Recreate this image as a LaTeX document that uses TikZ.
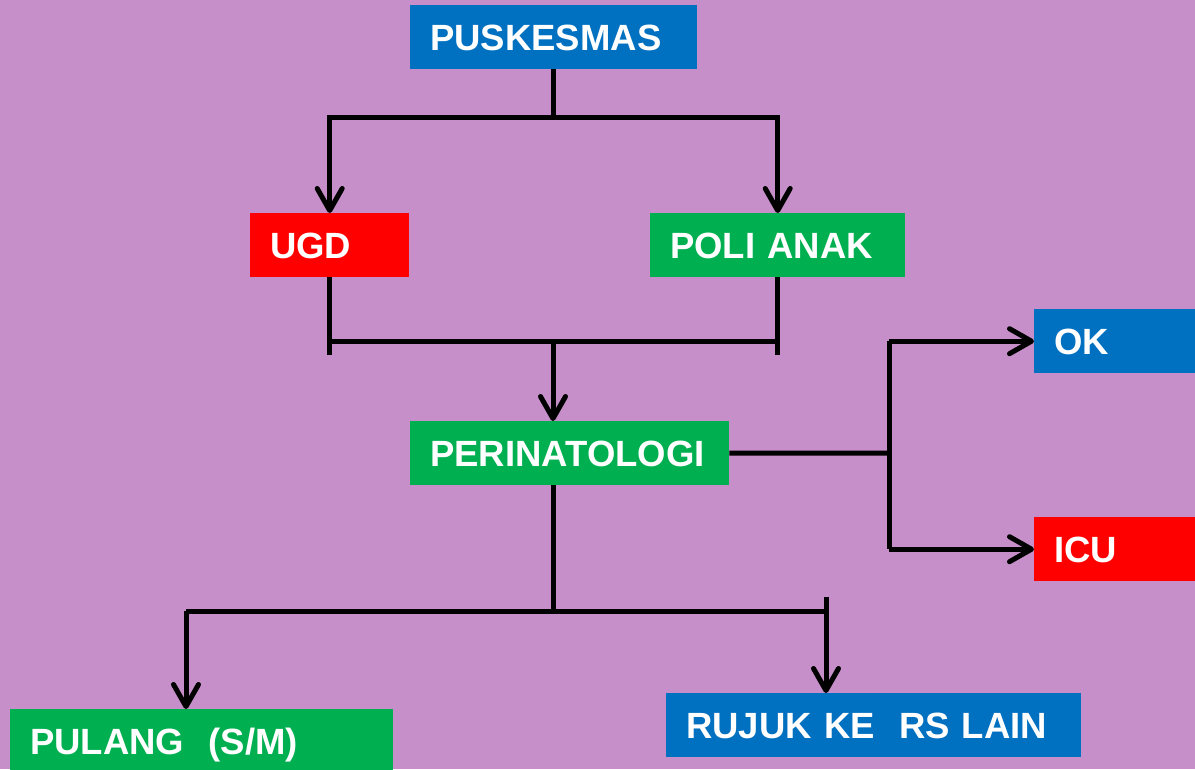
\documentclass[tikz,border=0pt]{standalone}
\usepackage{fontspec}
\setmainfont{Liberation Sans}
\usetikzlibrary{arrows.meta}
\definecolor{bgpurple}{HTML}{C78FC9}
\definecolor{boxblue}{HTML}{0070C0}
\definecolor{boxred}{HTML}{FF0000}
\definecolor{boxgreen}{HTML}{00B050}
\begin{document}
\begin{tikzpicture}[x=1pt, y=-1pt,
    box/.style={anchor=north west, text=white, font=\fontsize{36.5}{40}\selectfont\bfseries,
                minimum height=64pt, inner xsep=20pt, inner ysep=0pt,
                text height=26pt, text depth=0pt, align=left},
    line/.style={line width=5pt, black},
    arr/.style={line width=5pt, black, -{Straight Barb[length=22pt, width=25pt, line cap=round, line join=round]}}]
    \useasboundingbox (0,0) rectangle (1195,769);
    \fill[bgpurple] (0,0) rectangle (1195,769); % latar
    % kotak
    \node[box, fill=boxblue, text width=247pt] (pusk) at (410,5) {PUSKESMAS};
    \node[box, fill=boxred, text width=119pt] (ugd) at (250,213) {UGD};
    \node[box, fill=boxgreen, text width=215pt] (poli) at (650,213) {POLI ANAK};
    \node[box, fill=boxgreen, text width=279pt] (peri) at (410,421) {PERINATOLOGI};
    \node[box, fill=boxblue, text width=121pt] (ok) at (1034,309) {OK};
    \node[box, fill=boxred, text width=121pt] (icu) at (1034,517) {ICU};
    \node[box, fill=boxgreen, text width=343pt] (pulang) at (10,709) {PULANG\ \ (S/M)};
    \node[box, fill=boxblue, text width=375pt] (rujuk) at (666,693) {RUJUK KE\ \ RS LAIN};
    % titik cabang
    \coordinate (top) at (553,117);
    \coordinate (mid) at (553,341);
    \coordinate (side) at (889,453);
    \coordinate (low) at (553,611);
    \coordinate (lowleft) at (186,611);
    \coordinate (lowright) at (826,611);
    % garis
    \draw[line] (pusk.south -| top) -- (top); % puskesmas turun
    \draw[arr] (top) -| (ugd.north); % ke ugd
    \draw[arr] (top) -| (poli.north); % ke poli anak
    \draw[line] (ugd.south) -- ++(0,78) ; % ugd turun
    \draw[line] (poli.south) -- ++(0,78); % poli turun
    \draw[line] (ugd.south |- mid) -- (poli.south |- mid); % gabung
    \draw[arr] (mid) -- (mid |- peri.north); % ke perinatologi
    \draw[line] (peri.east) -- (side); % ke kanan
    \draw[line] (side |- ok.west) -- (side |- icu.west); % cabang kanan
    \draw[arr] (side |- ok.west) -- (ok.west); % ke ok
    \draw[arr] (side |- icu.west) -- (icu.west); % ke icu
    \draw[line] (peri.south -| low) -- (low); % perinatologi turun
    \draw[line] (lowleft) -- (lowright); % cabang bawah
    \draw[line] (lowright) -- ++(0,-14); % ujung kanan
    \draw[arr] (lowleft) -- (lowleft |- pulang.north); % ke pulang
    \draw[arr] (lowright) -- (lowright |- rujuk.north); % ke rujuk
\end{tikzpicture}
\end{document}
